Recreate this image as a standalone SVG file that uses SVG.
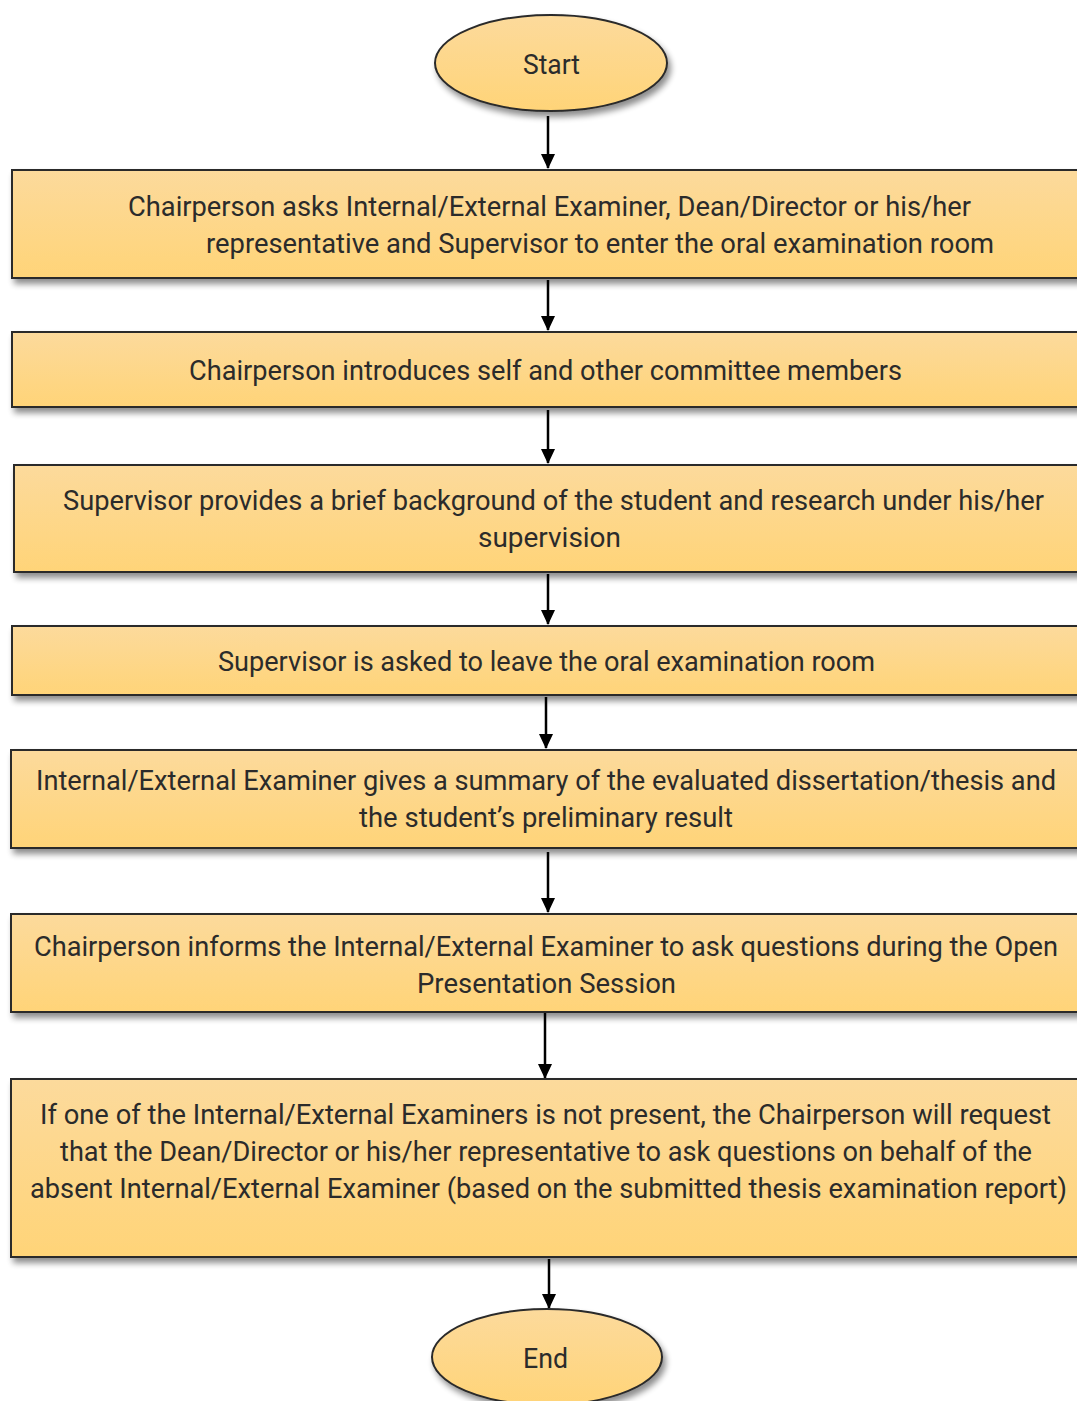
<svg xmlns="http://www.w3.org/2000/svg" width="1077" height="1401" viewBox="0 0 1077 1401">
  <style>
    .box { fill: url(#fillGrad); stroke: #2a2a2a; stroke-width: 2; filter: url(#shadow); }
    .lbl { font-family: Roboto, "Liberation Sans", sans-serif; font-size: 27px; fill: #2b2b2b; }
    .conn { stroke: #000; stroke-width: 2.5; fill: none; marker-end: url(#arrow); }
  </style>
  <defs>
    <linearGradient id="fillGrad" x1="0" y1="0" x2="0" y2="1">
      <stop offset="0" stop-color="#FCDA9C"/>
      <stop offset="1" stop-color="#FFD478"/>
    </linearGradient>
    <filter id="shadow" x="-10%" y="-20%" width="130%" height="150%">
      <feGaussianBlur in="SourceAlpha" stdDeviation="3"/>
      <feOffset dx="3" dy="5" result="b"/>
      <feComponentTransfer><feFuncA type="linear" slope="0.45"/></feComponentTransfer>
      <feMerge><feMergeNode/><feMergeNode in="SourceGraphic"/></feMerge>
    </filter>
    <!-- filled triangular head, drawn along +x so orient="auto" turns it downward -->
    <marker id="arrow" markerWidth="15" markerHeight="14" refX="14" refY="7" orient="auto" markerUnits="userSpaceOnUse" viewBox="0 0 15 14">
      <path d="M0,0 L15,7 L0,14 Z" fill="#000"/>
    </marker>
  </defs>

  <!-- connectors -->
  <g id="connectors">
    <path class="conn" d="M548,116 V168"/>
    <path class="conn" d="M548,280 V330"/>
    <path class="conn" d="M548,410 V463"/>
    <path class="conn" d="M548,574 V624"/>
    <path class="conn" d="M546,697 V748"/>
    <path class="conn" d="M548,852 V912"/>
    <path class="conn" d="M545,1013 V1078"/>
    <path class="conn" d="M549,1259 V1308"/>
  </g>

  <g id="start">
    <ellipse class="box" cx="551" cy="63" rx="116" ry="48"/>
    <text class="lbl" x="523" y="74" textLength="57" lengthAdjust="spacingAndGlyphs">Start</text>
  </g>

  <g id="step1">
    <rect class="box" x="12" y="170" width="1090" height="108"/>
    <text class="lbl" x="128" y="216" textLength="843" lengthAdjust="spacingAndGlyphs">Chairperson asks Internal/External Examiner, Dean/Director or his/her</text>
    <text class="lbl" x="206" y="253" textLength="788" lengthAdjust="spacingAndGlyphs">representative and Supervisor to enter the oral examination room</text>
  </g>

  <g id="step2">
    <rect class="box" x="12" y="332" width="1090" height="75"/>
    <text class="lbl" x="189" y="380" textLength="713" lengthAdjust="spacingAndGlyphs">Chairperson introduces self and other committee members</text>
  </g>

  <g id="step3">
    <rect class="box" x="14" y="465" width="1090" height="107"/>
    <text class="lbl" x="63" y="510" textLength="981" lengthAdjust="spacingAndGlyphs">Supervisor provides a brief background of the student and research under his/her</text>
    <text class="lbl" x="478" y="547" textLength="143" lengthAdjust="spacingAndGlyphs">supervision</text>
  </g>

  <g id="step4">
    <rect class="box" x="12" y="626" width="1090" height="69"/>
    <text class="lbl" x="218" y="671" textLength="657" lengthAdjust="spacingAndGlyphs">Supervisor is asked to leave the oral examination room</text>
  </g>

  <g id="step5">
    <rect class="box" x="11" y="750" width="1090" height="98"/>
    <text class="lbl" x="36" y="790" textLength="1020" lengthAdjust="spacingAndGlyphs">Internal/External Examiner gives a summary of the evaluated dissertation/thesis and</text>
    <text class="lbl" x="359" y="827" textLength="374" lengthAdjust="spacingAndGlyphs">the student’s preliminary result</text>
  </g>

  <g id="step6">
    <rect class="box" x="11" y="914" width="1090" height="98"/>
    <text class="lbl" x="34" y="956" textLength="1024" lengthAdjust="spacingAndGlyphs">Chairperson informs the Internal/External Examiner to ask questions during the Open</text>
    <text class="lbl" x="417" y="993" textLength="259" lengthAdjust="spacingAndGlyphs">Presentation Session</text>
  </g>

  <g id="step7">
    <rect class="box" x="11" y="1079" width="1090" height="178"/>
    <text class="lbl" x="40" y="1124" textLength="1011" lengthAdjust="spacingAndGlyphs">If one of the Internal/External Examiners is not present, the Chairperson will request</text>
    <text class="lbl" x="60" y="1161" textLength="972" lengthAdjust="spacingAndGlyphs">that the Dean/Director or his/her representative to ask questions on behalf of the</text>
    <text class="lbl" x="30" y="1198" textLength="1037" lengthAdjust="spacingAndGlyphs">absent Internal/External Examiner (based on the submitted thesis examination report)</text>
  </g>

  <g id="end">
    <ellipse class="box" cx="547" cy="1357" rx="115" ry="48"/>
    <text class="lbl" x="523" y="1368" textLength="45" lengthAdjust="spacingAndGlyphs">End</text>
  </g>
</svg>
